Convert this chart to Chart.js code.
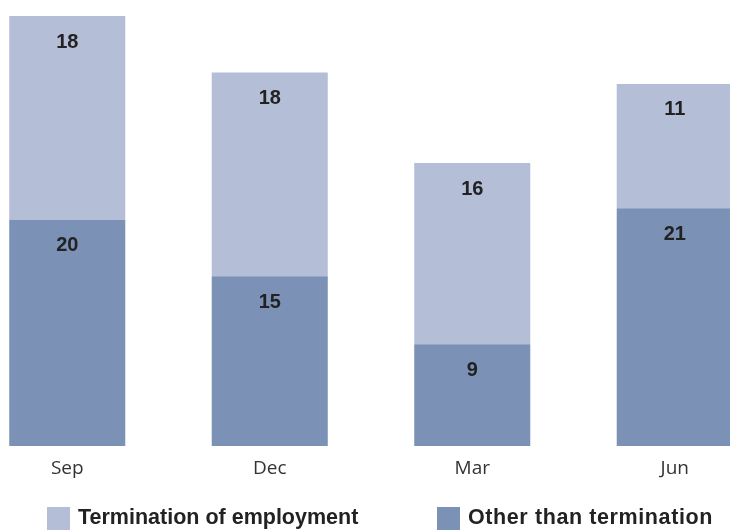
<!DOCTYPE html>
<html>
<head>
<meta charset="utf-8">
<script src="https://cdn.jsdelivr.net/npm/chart.js@4.4.1/dist/chart.umd.min.js"></script>
<style>
    html, body {
        margin: 0;
        padding: 0;
        background: #ffffff;
        overflow: hidden;
        width: 730px;
        height: 530px;
    }
    #wrap {
        position: absolute;
        left: -34px;
        top: 0;
        width: 810px;
        height: 530px;
    }
    .legend-item {
        position: absolute;
        top: 507px;
        display: flex;
        align-items: flex-start;
        font-family: 'Liberation Sans', Arial, sans-serif;
        font-weight: bold;
        font-size: 21.5px;
        line-height: 21px;
        color: #222222;
    }
    .legend-item .box {
        width: 23px;
        height: 23px;
        margin-right: 8px;
    }
</style>
</head>
<body>
<div id="wrap"><canvas id="chart" width="810" height="530"></canvas></div>
<div class="legend-item" style="left:47px"><div class="box" style="background:#b4bed7"></div><span>Termination of employment</span></div>
<div class="legend-item" style="left:437px"><div class="box" style="background:#7b91b5"></div><span style="letter-spacing:0.6px">Other than termination</span></div>

<script>
// === Data ===
const quarters = ['Sep', 'Dec', 'Mar', 'Jun'];
const otherThanTermination = [20, 15, 9, 21];
const terminationOfEmployment = [18, 18, 16, 11];

const colors = {
    light: '#b4bed7',
    dark: '#7b91b5',
    text: '#222222',
    tick: '#333333'
};

// labels sit a little below the top of each segment
const segmentLabels = {
    id: 'segmentLabels',
    afterDatasetsDraw(chart) {
        const ctx = chart.ctx;
        ctx.save();
        ctx.font = "bold 20px 'Liberation Sans', Arial, sans-serif";
        ctx.fillStyle = colors.text;
        ctx.textAlign = 'center';
        ctx.textBaseline = 'middle';
        chart.data.datasets.forEach((ds, i) => {
            chart.getDatasetMeta(i).data.forEach((bar, j) => {
                ctx.fillText(String(ds.data[j]), bar.x, bar.y + 26);
            });
        });
        ctx.restore();
    }
};

new Chart(document.getElementById('chart').getContext('2d'), {
    type: 'bar',
    data: {
        labels: quarters,
        datasets: [
            {
                label: 'Other than termination',
                data: otherThanTermination,
                backgroundColor: colors.dark,
                barPercentage: 1,
                categoryPercentage: 0.573
            },
            {
                label: 'Termination of employment',
                data: terminationOfEmployment,
                backgroundColor: colors.light,
                barPercentage: 1,
                categoryPercentage: 0.573
            }
        ]
    },
    options: {
        responsive: false,
        animation: false,
        layout: {
            padding: { top: 16, bottom: 44, left: 0, right: 0 }
        },
        plugins: {
            legend: { display: false },
            tooltip: { enabled: false }
        },
        scales: {
            x: {
                stacked: true,
                grid: { display: false },
                border: { display: false },
                ticks: {
                    color: colors.tick,
                    padding: 3,
                    font: { family: "'Open Sans', sans-serif", size: 19 }
                },
                afterFit(scale) {
                    scale.height = 40;
                }
            },
            y: {
                stacked: true,
                display: false,
                min: 0,
                max: 38
            }
        }
    },
    plugins: [segmentLabels]
});
</script>
</body>
</html>
